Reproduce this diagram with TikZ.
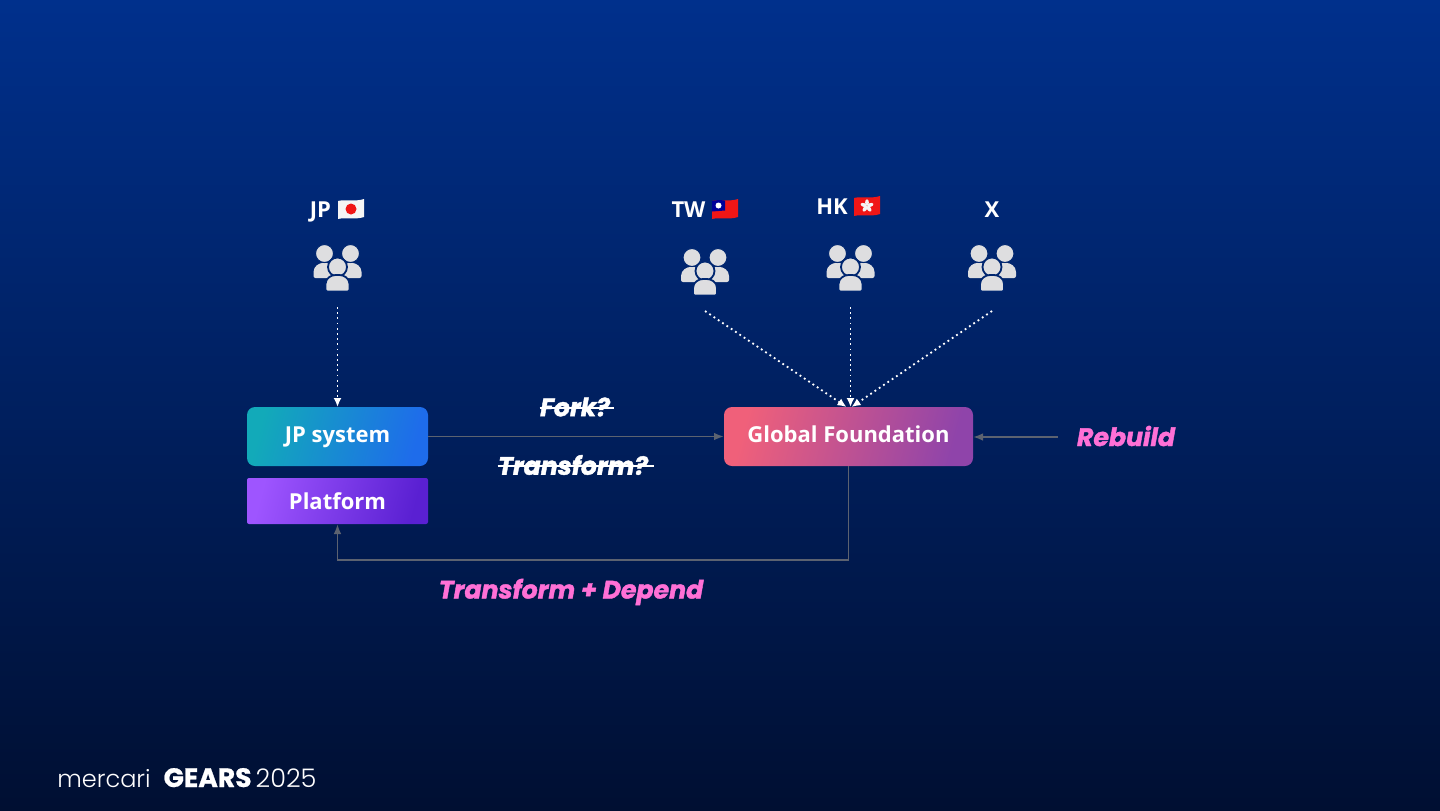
\documentclass[tikz,border=0pt]{standalone}
\usepackage{fontspec}
\setmainfont{Open Sans}
\newfontfamily\slidefont[BoldItalicFeatures={FakeBold=1.6},BoldFeatures={FakeBold=0.8}]{Poppins}
\newfontfamily\logofont{Poppins Light}
\usetikzlibrary{positioning,arrows.meta}
\definecolor{bgtop}{RGB}{0,48,140}
\definecolor{bgmid}{RGB}{0,30,92}
\definecolor{bgbot}{RGB}{0,15,50}
\definecolor{iconfill}{RGB}{222,222,224}
\definecolor{iconring}{RGB}{0,38,112}
\definecolor{wire}{RGB}{92,98,112}
\definecolor{pinklabel}{RGB}{255,112,214}
\definecolor{flagred}{RGB}{240,22,22}
\definecolor{flagwhite}{RGB}{245,245,245}
\tikzset{
  block/.style       = {align=center, text=white, font=\bfseries\fontsize{11}{13}\selectfont,
                        text height=9pt, text depth=3pt,
                        minimum height=29.5pt, rounded corners=4pt, inner sep=0pt, outer sep=0pt},
  jpbox/.style       = {block, minimum width=90.5pt,
                        left color={rgb,255:red,18;green,170;blue,185},
                        right color={rgb,255:red,30;green,108;blue,235}, shading angle=75},
  platbox/.style     = {block, text depth=1pt, minimum width=90.5pt, minimum height=23pt, rounded corners=1pt,
                        left color={rgb,255:red,158;green,85;blue,255},
                        right color={rgb,255:red,90;green,32;blue,210}, shading angle=75},
  globalbox/.style   = {block, minimum width=124.5pt,
                        left color={rgb,255:red,240;green,96;blue,122},
                        right color={rgb,255:red,143;green,68;blue,170}, shading angle=75},
  team/.style        = {minimum width=25pt, minimum height=39pt, inner sep=0pt, outer sep=0pt},
  region/.style      = {text=white, font=\bfseries\fontsize{11}{13}\selectfont, inner sep=0pt},
  pinktag/.style     = {text=pinklabel, font=\slidefont\bfseries\itshape\fontsize{12.6}{14}\selectfont, inner sep=0pt},
  oldtag/.style      = {pinktag, text=white},
  strike/.style      = {draw=white, line width=0.9pt},
  edge/.style        = {-{Latex[length=5pt,width=3.8pt]}, draw=wire, line width=0.9pt},
  link/.style        = {-{Latex[length=4.5pt,width=4pt]}, draw=white, line width=0.9pt,
                        dash pattern=on 0.9pt off 1.7pt},
  people/.pic        = {
    \fill[iconfill, rounded corners=1pt] (-24,10) -- (-24,6) .. controls (-24,-2) and (-18,-5) .. (-13,-5)
      .. controls (-8,-5) and (-3,-2) .. (-3,6) -- (-3,10) -- cycle;
    \fill[iconfill, rounded corners=1pt] (3,10) -- (3,6) .. controls (3,-2) and (8,-5) .. (13,-5)
      .. controls (18,-5) and (24,-2) .. (24,6) -- (24,10) -- cycle;
    \filldraw[fill=iconfill, draw=iconring, line width=0.5pt] (-13,-14.5) circle (9);
    \filldraw[fill=iconfill, draw=iconring, line width=0.5pt] (13,-14.5) circle (9);
    \filldraw[fill=iconfill, draw=iconring, line width=0.9pt] (0,-1) circle (9.5);
    \filldraw[fill=iconfill, draw=iconring, line width=0.9pt, rounded corners=1pt] (-12,23.5) -- (-12,18)
      .. controls (-12,10) and (-6,7) .. (0,7) .. controls (6,7) and (12,10) .. (12,18) -- (12,23.5) -- cycle;
  },
  flagjp/.pic        = {
    \fill[flagwhite] (-13,-8) .. controls (-5,-10) and (4,-7) .. (13,-10) -- (13,8)
      .. controls (4,11) and (-5,8) .. (-13,10) -- cycle;
    \fill[flagred] (0,0) circle (5.5);
  },
  flagtw/.pic        = {
    \fill[flagred] (-13,-8) .. controls (-5,-10) and (4,-7) .. (13,-10) -- (13,8)
      .. controls (4,11) and (-5,8) .. (-13,10) -- cycle;
    \fill[blue!60!black] (-13,-8) .. controls (-8,-9.3) and (-4,-9) .. (0,-8.4) -- (0,1.5) -- (-13,2.5) -- cycle;
    \fill[white] (-6.5,-3.5) circle (3);
  },
  flaghk/.pic        = {
    \fill[flagred] (-13,-8) .. controls (-5,-10) and (4,-7) .. (13,-10) -- (13,8)
      .. controls (4,11) and (-5,8) .. (-13,10) -- cycle;
    \foreach \a in {0,72,...,288}
      \fill[flagwhite, rotate around={\a:(0,0)}] (0,-3.5) ellipse (1.9 and 3.2);
  }
}

\begin{document}
\begin{tikzpicture}[x=0.5pt, y=-0.5pt, node distance=6pt and 148pt]

  % Background
  \shade[top color=bgtop, middle color=bgmid, bottom color=bgbot] (0,0) rectangle (1440,810);

  % Systems
  \node[jpbox] at (337.5,436.5)      (JP)     {JP system};
  \node[platbox, below=of JP]        (Plat)   {Platform};
  \node[globalbox, right=of JP]      (Global) {Global Foundation};

  % Teams
  \node[team] at (337.5,268) (jpTeam) {};
  \node[team] at (705,272)   (twTeam) {};
  \node[team] at (850.5,268) (hkTeam) {};
  \node[team] at (992,272)   (xTeam)  {};
  \pic at (jpTeam) {people};
  \pic at (twTeam) {people};
  \pic at (hkTeam) {people};
  \pic at (992,268) {people};

  % Region names and flags
  \node[region] at (320.5,212) (jpName) {JP};
  \node[region] at (688.5,210) (twName) {TW};
  \node[region] at (832,207)   (hkName) {HK};
  \node[region] at (992,210)   (xName)  {X};
  \pic at (351,209) {flagjp};
  \pic at (725,209) {flagtw};
  \pic at (867,206) {flaghk};

  % Labels
  \node[oldtag] at (575,407) (fork) {Fork?};
  \node[oldtag] at (573,465) (trans) {Transform?};
  \node[pinktag] at (571,592) (depend) {Transform + Depend};
  \node[pinktag] at (1126,436) (rebuild) {Rebuild};
  \draw[strike] ([yshift=-0.5pt]fork.west) -- ([xshift=2pt,yshift=-0.5pt]fork.east);
  \draw[strike] ([yshift=-0.5pt]trans.west) -- ([xshift=3pt,yshift=-0.5pt]trans.east);

  % Edges
  \coordinate (rebuildEnd) at (1058,437);
  \draw[edge] (JP) -- (Global);
  \draw[edge] (rebuildEnd) -- (Global.east |- rebuildEnd);
  \draw[edge] (Global.south) -- ++(0,94) -| (Plat.south);

  \draw[link] (jpTeam.south) -- (JP.north);
  \draw[link] (twTeam.south) -- ([xshift=-1pt]Global.north);
  \draw[link] (hkTeam.south) -- (hkTeam.south |- Global.north);
  \draw[link] (xTeam.south)  -- ([xshift=1.5pt]Global.north);

  % Logo
  \node[anchor=base west, text=white, inner sep=0pt, font=\logofont\fontsize{12}{14}\selectfont]
    at (57,787) (logo) {mercari\hspace{6.5pt}{\slidefont\bfseries\fontsize{13.3}{14}\selectfont GEARS}\hspace{2pt}{\fontsize{12.8}{14}\selectfont 2025}};

\end{tikzpicture}
\end{document}
